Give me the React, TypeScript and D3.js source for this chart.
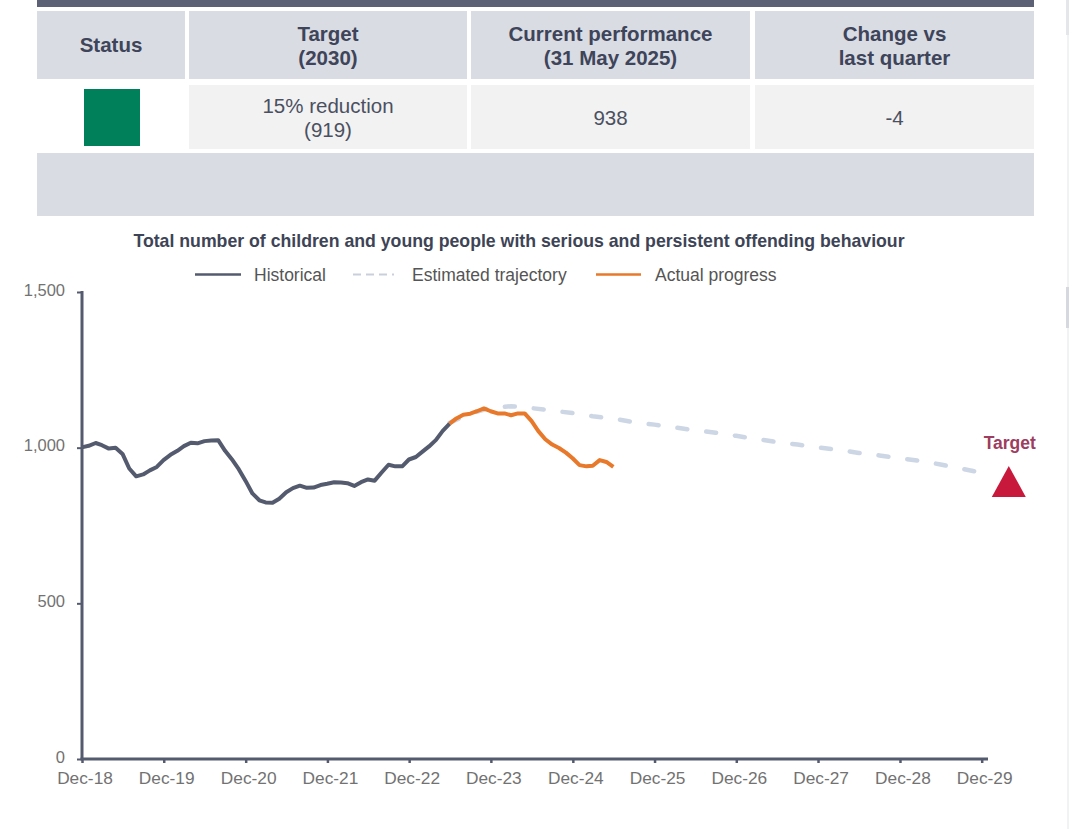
import React, { useEffect, useRef } from 'react';
import * as d3 from 'd3';

// Summary table
const headerLabels = [['Status'], ['Target', '(2030)'], ['Current performance', '(31 May 2025)'], ['Change vs', 'last quarter']];
const rowLabels = [[], ['15% reduction', '(919)'], ['938'], ['-4']];
const statusColour = '#00805a';

// Chart title and legend
const chartTitle = 'Total number of children and young people with serious and persistent offending behaviour';
const legendItems = ['Historical', 'Estimated trajectory', 'Actual progress'];

// Axis ticks
const yTicks = [0, 500, 1000, 1500];
const xTickLabels = ['Dec-18', 'Dec-19', 'Dec-20', 'Dec-21', 'Dec-22', 'Dec-23', 'Dec-24', 'Dec-25', 'Dec-26', 'Dec-27', 'Dec-28', 'Dec-29'];

// Month-end counts, first value is Nov 2018
const historical = [
  1001, 1006, 1015, 1008, 997, 1000, 980, 933, 908, 914, 927, 938,
  960, 977, 990, 1005, 1016, 1014, 1021, 1023, 1024, 990, 963, 931,
  894, 853, 831, 824, 823, 836, 857, 870, 878, 871, 872, 880,
  884, 889, 888, 886, 877, 889, 898, 894, 920, 945, 940, 940,
  962, 970, 988, 1004, 1025, 1054, 1077,
];
// Month-end counts, first value is May 2023, last is May 2025
const actual = [
  1077, 1094, 1106, 1109, 1117, 1126, 1117, 1110, 1110, 1104, 1110, 1110,
  1085, 1053, 1027, 1010, 999, 984, 966, 944, 940, 942, 960, 954, 938,
];
// Quarterly estimate, first value is May 2023, last is Nov 2029
const trajectory = [
  1080, 1110, 1128, 1133, 1127, 1119, 1111, 1101, 1093, 1082, 1074, 1065, 1056, 1048,
  1038, 1028, 1018, 1010, 1001, 993, 983, 975, 966, 958, 946, 933, 919,
];
const targetValue = 919;
const targetDate = new Date(2030, 3, 1);

const monthEnd = (offset: number) => new Date(2018, 11 + offset, 0);

const FONT = '"Liberation Sans", Arial, Helvetica, sans-serif';

const App: React.FC = () => {
  const svgRef = useRef<SVGSVGElement>(null);

  useEffect(() => {
    if (!svgRef.current) return;
    const svg = d3.select(svgRef.current);
    svg.selectAll('*').remove();

    const width = 1069;
    const height = 829;
    svg.attr('width', width).attr('height', height);

    svg.append('rect').attr('width', width).attr('height', height).attr('fill', '#ffffff');

    // faint page edge on the right
    svg.append('rect').attr('x', 1067).attr('y', 0).attr('width', 2).attr('height', height).attr('fill', '#f1f2f4');
    svg.append('rect').attr('x', 1066).attr('y', 0).attr('width', 3).attr('height', 35).attr('fill', '#e4e6ea');
    svg.append('rect').attr('x', 1066).attr('y', 287).attr('width', 3).attr('height', 41).attr('fill', '#d5d8de');

    // ---- summary table ----
    const table = svg.append('g');
    const cells = [
      { x0: 37, x1: 185 },
      { x0: 189, x1: 467 },
      { x0: 471, x1: 750 },
      { x0: 755, x1: 1034 },
    ];

    table.append('rect').attr('x', 37).attr('y', 0).attr('width', 997).attr('height', 7).attr('fill', '#5d6175');

    cells.forEach((c, i) => {
      const cx = (c.x0 + c.x1) / 2;
      table.append('rect')
        .attr('x', c.x0).attr('y', 11)
        .attr('width', c.x1 - c.x0).attr('height', 68)
        .attr('fill', '#d9dce3');

      const lines = headerLabels[i];
      const top = lines.length === 1 ? 52 : 41;
      lines.forEach((t, j) => {
        table.append('text')
          .attr('x', cx).attr('y', top + j * 24)
          .attr('text-anchor', 'middle')
          .attr('font-family', FONT).attr('font-size', '20.5px').attr('font-weight', '700')
          .attr('fill', '#3e4459')
          .text(t);
      });

      if (i > 0) {
        table.append('rect')
          .attr('x', c.x0).attr('y', 85)
          .attr('width', c.x1 - c.x0).attr('height', 64)
          .attr('fill', '#f2f2f2');
      }
      const vals = rowLabels[i];
      const vTop = vals.length === 1 ? 125 : 113;
      vals.forEach((t, j) => {
        table.append('text')
          .attr('x', cx).attr('y', vTop + j * 24)
          .attr('text-anchor', 'middle')
          .attr('font-family', FONT).attr('font-size', '20.5px')
          .attr('fill', '#4b5061')
          .text(t);
      });
    });

    table.append('rect').attr('x', 84).attr('y', 89).attr('width', 56).attr('height', 57).attr('fill', statusColour);
    table.append('rect').attr('x', 37).attr('y', 153).attr('width', 997).attr('height', 63).attr('fill', '#d9dce3');

    // ---- chart ----
    svg.append('text')
      .attr('x', 519).attr('y', 247)
      .attr('text-anchor', 'middle')
      .attr('font-family', FONT).attr('font-size', '17.7px').attr('font-weight', '700')
      .attr('fill', '#3d4456')
      .text(chartTitle);

    const x = d3.scaleTime()
      .domain([new Date(2018, 11, 1), new Date(2029, 11, 1)])
      .range([82, 981.7]);
    const y = d3.scaleLinear().domain([0, 1500]).range([759, 292]);

    const axisColour = '#555b6e';
    const labelColour = '#727272';

    // y axis
    const yAxis = svg.append('g')
      .attr('transform', 'translate(82,0)')
      .call(d3.axisLeft(y).tickValues(yTicks).tickSize(5).tickPadding(12).tickFormat(d3.format(',') as any));
    yAxis.select('.domain').remove();
    yAxis.selectAll('.tick line').attr('stroke', axisColour).attr('stroke-width', 2);
    yAxis.selectAll('.tick text')
      .attr('font-family', FONT).attr('font-size', '16.5px')
      .attr('fill', labelColour).attr('dy', '0.2em');
    svg.append('line')
      .attr('x1', 82).attr('x2', 82).attr('y1', y(1500) - 1).attr('y2', y(0))
      .attr('stroke', axisColour).attr('stroke-width', 3);

    // x axis
    const xTickDates = xTickLabels.map((_, i) => new Date(2018 + i, 11, 1));
    const xAxis = svg.append('g')
      .attr('transform', `translate(0,${y(0)})`)
      .call(d3.axisBottom(x).tickValues(xTickDates).tickSize(4).tickPadding(9)
        .tickFormat((_, i) => xTickLabels[i]));
    xAxis.select('.domain').remove();
    xAxis.selectAll('.tick line').attr('stroke', axisColour).attr('stroke-width', 2.5);
    xAxis.selectAll('.tick text')
      .attr('font-family', FONT).attr('font-size', '17.3px')
      .attr('fill', labelColour).attr('dx', '2.5');
    svg.append('line')
      .attr('x1', 80.5).attr('x2', 988).attr('y1', y(0)).attr('y2', y(0))
      .attr('stroke', axisColour).attr('stroke-width', 3);

    const line = d3.line<{ date: Date; value: number }>()
      .x(d => x(d.date))
      .y(d => y(d.value));

    const histData = historical.map((v, i) => ({ date: monthEnd(i), value: v }));
    const actualData = actual.map((v, i) => ({ date: monthEnd(54 + i), value: v }));
    const trajData = trajectory.map((v, i) => ({ date: monthEnd(54 + i * 3), value: v }));

    // estimated trajectory sits behind the actual line
    svg.append('path')
      .datum(trajData)
      .attr('d', line)
      .attr('fill', 'none')
      .attr('stroke', '#cdd6e4')
      .attr('stroke-width', 4.5)
      .attr('stroke-linecap', 'round')
      .attr('stroke-dasharray', '10 19');

    svg.append('path')
      .datum(histData)
      .attr('d', line)
      .attr('fill', 'none')
      .attr('stroke', axisColour)
      .attr('stroke-width', 4)
      .attr('stroke-linejoin', 'round');

    svg.append('path')
      .datum(actualData)
      .attr('d', line)
      .attr('fill', 'none')
      .attr('stroke', '#e8782a')
      .attr('stroke-width', 4)
      .attr('stroke-linejoin', 'round');

    // target marker
    const tx = x(targetDate);
    const ty = y(targetValue) - 7;
    svg.append('path')
      .attr('d', `M${tx},${ty} L${tx + 17},${ty + 31} L${tx - 17},${ty + 31} Z`)
      .attr('fill', '#c8193c');
    svg.append('text')
      .attr('x', tx + 1).attr('y', ty - 17)
      .attr('text-anchor', 'middle')
      .attr('font-family', FONT).attr('font-size', '17.5px').attr('font-weight', '700')
      .attr('fill', '#9d3d5f')
      .text('Target');

    // legend
    const legend = svg.append('g').attr('font-family', FONT).attr('font-size', '17.5px').attr('fill', '#555555');
    const legendY = 274.5;
    legend.append('line').attr('x1', 195).attr('x2', 241).attr('y1', legendY).attr('y2', legendY)
      .attr('stroke', axisColour).attr('stroke-width', 2.5);
    legend.append('line').attr('x1', 353).attr('x2', 394).attr('y1', legendY).attr('y2', legendY)
      .attr('stroke', '#c9d0db').attr('stroke-width', 2).attr('stroke-dasharray', '8 5');
    legend.append('line').attr('x1', 596).attr('x2', 641).attr('y1', legendY).attr('y2', legendY)
      .attr('stroke', '#e8782a').attr('stroke-width', 2.5);
    [254, 412, 655].forEach((lx, i) => {
      legend.append('text').attr('x', lx).attr('y', legendY + 6.5).text(legendItems[i]);
    });
  }, []);

  return (
    <svg ref={svgRef} style={{ position: 'absolute', left: 0, top: 0, display: 'block' }}></svg>
  );
};

export default App;
